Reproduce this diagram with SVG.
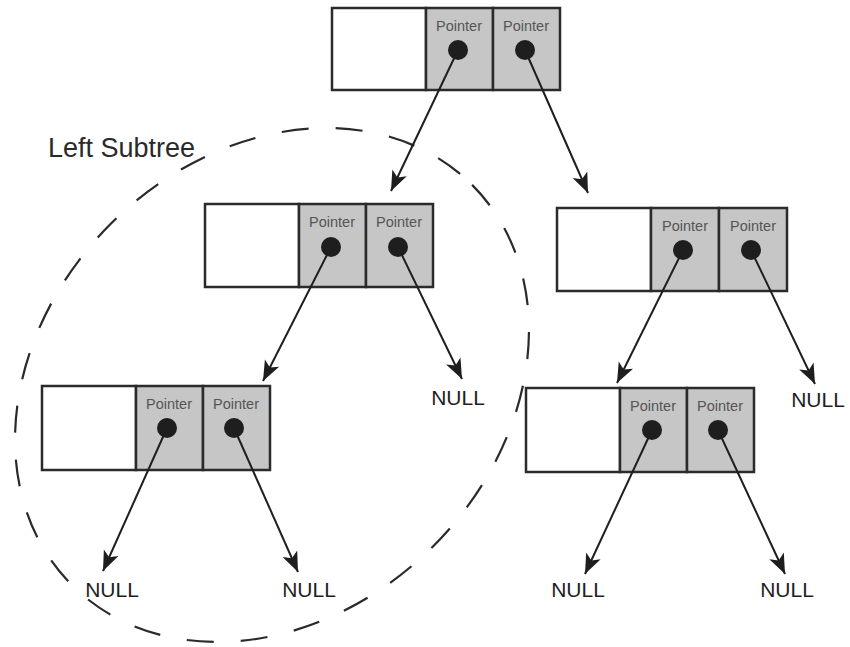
<svg xmlns="http://www.w3.org/2000/svg" width="850" height="647" viewBox="0 0 850 647">
  <style>
    .cell { stroke: #2b2b2b; stroke-width: 2.5; }
    .data { fill: #ffffff; }
    .ptr { fill: #c6c6c6; }
    .dot { fill: #1e1e1e; }
    .plabel { font-family: "Liberation Sans", Arial, sans-serif; font-size: 14.5px; fill: #555555; text-anchor: middle; }
    .null { font-family: "Liberation Sans", Arial, sans-serif; font-size: 21px; fill: #1e1e1e; text-anchor: middle; }
    .title { font-family: "Liberation Sans", Arial, sans-serif; font-size: 27px; fill: #2a2a2a; }
    .link { stroke: #1e1e1e; stroke-width: 2; fill: none; marker-end: url(#arrow); }
    .region { fill: none; stroke: #2a2a2a; stroke-width: 2.2; stroke-dasharray: 27 27; }
  </style>
  <defs>
    <marker id="arrow" markerUnits="userSpaceOnUse" markerWidth="24" markerHeight="20" refX="22" refY="10" orient="auto">
      <path d="M22,10 L2,2 L7,10 L2,18 Z" fill="#1e1e1e"/>
    </marker>
  </defs>

  <rect width="850" height="647" fill="#ffffff"/>

  <!-- dashed outline of the left subtree -->
  <g id="left-subtree">
    <ellipse class="region" cx="272" cy="385" rx="283" ry="228" transform="rotate(-45 272 385)"/>
    <text class="title" x="48" y="157">Left Subtree</text>
  </g>

  <!-- root -->
  <g id="root">
    <rect class="cell data" x="332" y="8" width="94" height="82"/>
    <rect class="cell ptr" x="426" y="8" width="67" height="82"/>
    <rect class="cell ptr" x="493" y="8" width="67" height="82"/>
    <text class="plabel" x="459" y="31">Pointer</text>
    <text class="plabel" x="526" y="31">Pointer</text>
    <circle class="dot" cx="458" cy="50" r="10"/>
    <circle class="dot" cx="525" cy="50" r="10"/>
  </g>

  <!-- left child -->
  <g id="left">
    <rect class="cell data" x="205" y="204" width="94" height="83"/>
    <rect class="cell ptr" x="299" y="204" width="67" height="83"/>
    <rect class="cell ptr" x="366" y="204" width="67" height="83"/>
    <text class="plabel" x="332" y="227">Pointer</text>
    <text class="plabel" x="399" y="227">Pointer</text>
    <circle class="dot" cx="331" cy="247" r="10"/>
    <circle class="dot" cx="398" cy="247" r="10"/>
  </g>

  <!-- left-left grandchild -->
  <g id="left-left">
    <rect class="cell data" x="42" y="386" width="94" height="84"/>
    <rect class="cell ptr" x="136" y="386" width="67" height="84"/>
    <rect class="cell ptr" x="203" y="386" width="67" height="84"/>
    <text class="plabel" x="169" y="409">Pointer</text>
    <text class="plabel" x="236" y="409">Pointer</text>
    <circle class="dot" cx="167" cy="428" r="10"/>
    <circle class="dot" cx="234" cy="428" r="10"/>
  </g>

  <!-- right child -->
  <g id="right">
    <rect class="cell data" x="557" y="208" width="94" height="83"/>
    <rect class="cell ptr" x="651" y="208" width="68" height="83"/>
    <rect class="cell ptr" x="719" y="208" width="68" height="83"/>
    <text class="plabel" x="685" y="231">Pointer</text>
    <text class="plabel" x="753" y="231">Pointer</text>
    <circle class="dot" cx="683" cy="250" r="10"/>
    <circle class="dot" cx="751" cy="250" r="10"/>
  </g>

  <!-- right-left grandchild -->
  <g id="right-left">
    <rect class="cell data" x="526" y="388" width="94" height="84"/>
    <rect class="cell ptr" x="620" y="388" width="67" height="84"/>
    <rect class="cell ptr" x="687" y="388" width="67" height="84"/>
    <text class="plabel" x="653" y="411">Pointer</text>
    <text class="plabel" x="720" y="411">Pointer</text>
    <circle class="dot" cx="652" cy="430" r="10"/>
    <circle class="dot" cx="718" cy="430" r="10"/>
  </g>

  <!-- null terminators -->
  <g id="nulls">
    <text class="null" x="458" y="405">NULL</text>
    <text class="null" x="112" y="597">NULL</text>
    <text class="null" x="309" y="597">NULL</text>
    <text class="null" x="818" y="407">NULL</text>
    <text class="null" x="578" y="597">NULL</text>
    <text class="null" x="787" y="597">NULL</text>
  </g>

  <!-- pointer links -->
  <g id="connectors">
    <line class="link" x1="458" y1="50" x2="391" y2="191"/>
    <line class="link" x1="525" y1="50" x2="588" y2="193"/>
    <line class="link" x1="331" y1="247" x2="263" y2="381"/>
    <line class="link" x1="398" y1="247" x2="462" y2="379"/>
    <line class="link" x1="167" y1="428" x2="103" y2="571"/>
    <line class="link" x1="234" y1="428" x2="298" y2="572"/>
    <line class="link" x1="683" y1="250" x2="617" y2="383"/>
    <line class="link" x1="751" y1="250" x2="815" y2="384"/>
    <line class="link" x1="652" y1="430" x2="585" y2="574"/>
    <line class="link" x1="718" y1="430" x2="785" y2="574"/>
  </g>
</svg>
